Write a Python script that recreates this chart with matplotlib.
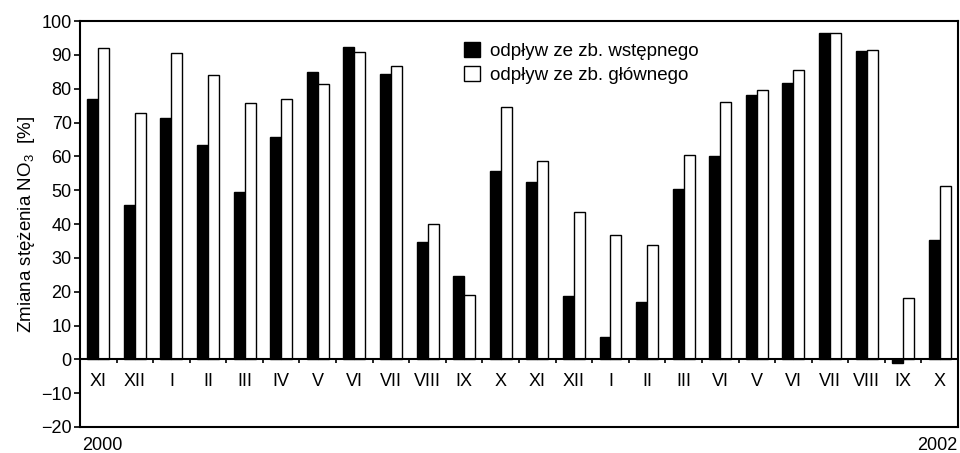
import matplotlib
matplotlib.use("Agg")
import matplotlib.pyplot as plt
from matplotlib.patches import Patch
import numpy as np

plt.rcParams['font.family'] = ['Liberation Sans', 'DejaVu Sans']
plt.rcParams['mathtext.fontset'] = 'custom'
plt.rcParams['mathtext.rm'] = 'Liberation Sans'
plt.rcParams['mathtext.it'] = 'Liberation Sans:italic'

months = ['XI', 'XII', 'I', 'II', 'III', 'IV', 'V', 'VI', 'VII', 'VIII', 'IX', 'X',
          'XI', 'XII', 'I', 'II', 'III', 'VI', 'V', 'VI', 'VII', 'VIII', 'IX', 'X']
wstepny = [76.9, 45.7, 71.3, 63.4, 49.6, 65.8, 84.8, 92.3, 84.4, 34.7, 24.6, 55.7,
           52.5, 18.7, 6.7, 17.0, 50.3, 60.1, 78.0, 81.7, 96.4, 91.0, -1.2, 35.3]
glowny = [92.1, 72.8, 90.5, 84.0, 75.9, 76.9, 81.3, 90.9, 86.6, 39.9, 19.1, 74.5,
          58.5, 43.6, 36.7, 33.8, 60.4, 76.1, 79.7, 85.5, 96.4, 91.5, 18.2, 51.1]
yticks = list(range(-20, 101, 10))

fig = plt.figure(figsize=(9.6, 4.53), dpi=100)
ax = fig.add_axes([0.0833, 0.0574, 0.9147, 0.8962])

x = np.arange(len(months))
w = 0.3
ax.bar(x - w / 2, wstepny, w, color='black', edgecolor='black', linewidth=1)
ax.bar(x + w / 2, glowny, w, color='white', edgecolor='black', linewidth=1)

ax.set_xlim(-0.5, len(months) - 0.5)
ax.set_ylim(-20, 100)
ax.set_yticks(yticks)
ax.set_yticklabels([str(v).replace('-', '\u2212') for v in yticks])
ax.set_xticks([])
ax.tick_params(axis='y', direction='out', length=4, width=1.2, labelsize=13, pad=2)

# zero line with category ticks and labels
ax.axhline(0, color='black', linewidth=1.5)
ax.vlines(x[:-1] + 0.5, -1.2, 0, color='black', linewidth=1.2)
for xi, m in zip(x, months):
    ax.text(xi, -6.5, m, ha='center', va='center', fontsize=13)

for s in ax.spines.values():
    s.set_linewidth(1.5)

ax.set_ylabel('Zmiana stężenia NO$_3$  [%]', fontsize=13.5, labelpad=3)

fig.text(0.086, 0.017, '2000', ha='left', va='center', fontsize=13)
fig.text(0.997, 0.017, '2002', ha='right', va='center', fontsize=13)

handles = [Patch(facecolor='black', edgecolor='black'),
           Patch(facecolor='white', edgecolor='black')]
ax.legend(handles, ['odpływ ze zb. wstępnego', 'odpływ ze zb. głównego'],
          loc='upper left', bbox_to_anchor=(0.418, 0.99), frameon=False,
          fontsize=13.5, handlelength=0.85, handleheight=0.85, handletextpad=0.55,
          labelspacing=0.3)

fig.savefig('out.png', dpi=100)
